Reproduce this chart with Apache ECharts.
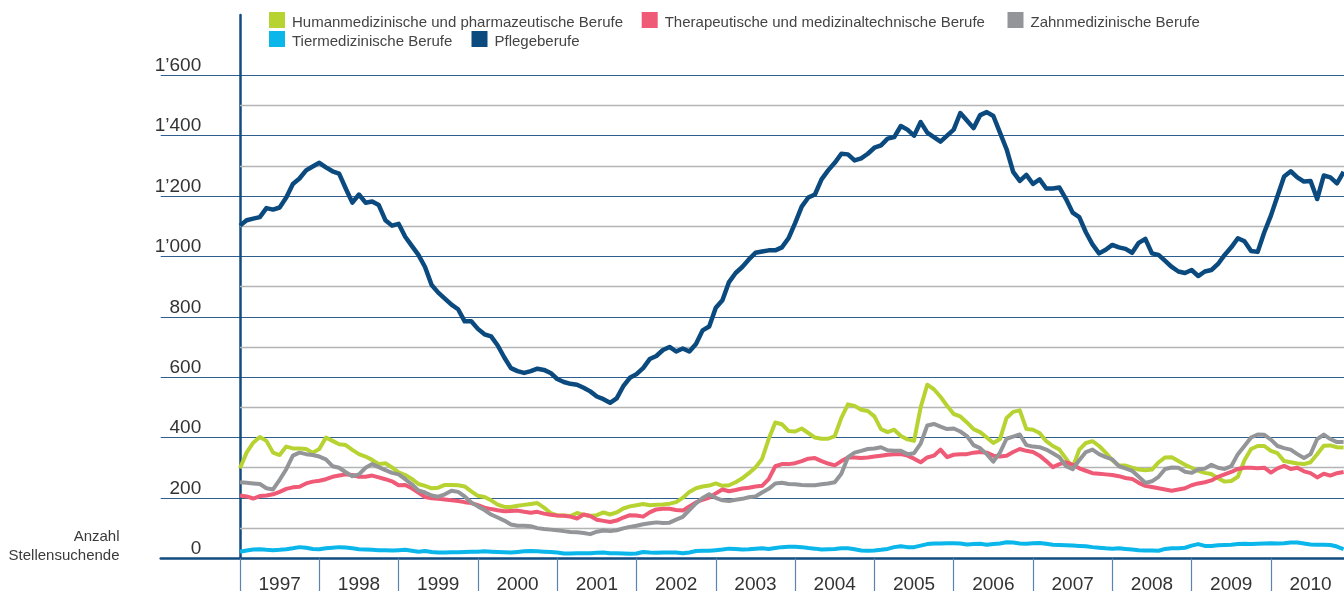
<!DOCTYPE html>
<html>
<head>
<meta charset="utf-8">
<script src="https://cdn.jsdelivr.net/npm/echarts@6/dist/echarts.min.js"></script>
<style>
  html, body { margin: 0; padding: 0; background: #fff; }
  #chart { width: 1344px; height: 591px; }
</style>
</head>
<body>
<div id="chart"></div>
<script>
// monthly values, Jan 1997 .. Dec 2010
const years = ['1997', '1998', '1999', '2000', '2001', '2002', '2003', '2004', '2005', '2006', '2007', '2008', '2009', '2010']
const names = [
  'Humanmedizinische und pharmazeutische Berufe',
  'Therapeutische und medizinaltechnische Berufe',
  'Zahnmedizinische Berufe',
  'Tiermedizinische Berufe',
  'Pflegeberufe'
]
const human = [
  298, 350, 383, 402, 389, 350, 342, 370, 364, 364, 362, 350, 362, 400, 389, 378, 375, 359, 345, 337, 326, 312, 315, 301, 285, 276, 263, 246,
  240, 232, 234, 243, 243, 242, 238, 222, 207, 203, 192, 178, 170, 170, 174, 177, 180, 183, 168, 150, 142, 142, 140, 150, 144, 140, 143, 152,
  145, 152, 165, 172, 176, 180, 176, 177, 178, 181, 186, 200, 220, 232, 238, 241, 248, 240, 242, 252, 265, 282, 301, 329, 395, 450, 444, 422,
  420, 430, 415, 400, 396, 396, 405, 465, 510, 505, 492, 488, 470, 428, 418, 426, 405, 394, 389, 500, 575, 560, 535, 505, 478, 470, 450, 428,
  418, 400, 382, 395, 465, 485, 490, 428, 426, 415, 388, 372, 360, 330, 300, 360, 382, 388, 372, 350, 325, 307, 307, 300, 294, 292, 294,
  318, 334, 335, 322, 310, 300, 290, 283, 279, 265, 254, 256, 270, 325, 362, 372, 372, 356, 348, 322, 318, 314, 312, 318, 345, 373, 374, 368, 367
]
const therapie = [
  208, 205, 198, 206, 208, 212, 220, 230, 235, 237, 248, 254, 257, 262, 270, 274, 278, 276, 270, 270, 274, 268, 262, 255, 242, 243, 232, 218,
  203, 199, 197, 195, 192, 190, 186, 183, 176, 168, 163, 159, 156, 157, 158, 154, 151, 154, 148, 144, 142, 141, 138, 132, 145, 140, 128, 124,
  120, 125, 135, 143, 142, 138, 152, 162, 164, 164, 160, 158, 172, 185, 194, 201, 215, 228, 222, 226, 231, 234, 238, 240, 262, 305, 312, 312,
  315, 322, 330, 332, 322, 314, 308, 322, 334, 334, 332, 334, 337, 340, 343, 345, 345, 340, 330, 318, 334, 340, 360, 335, 343, 345, 345, 350,
  352, 350, 340, 337, 340, 352, 362, 356, 352, 340, 322, 302, 312, 318, 310, 298, 290, 282, 280, 278, 276, 272, 266, 263, 250, 240, 236,
  232, 228, 224, 228, 232, 242, 248, 252, 258, 270, 278, 286, 296, 300, 300, 298, 300, 284, 298, 306, 296, 300, 288, 282, 268, 280, 274, 282, 286
]
const zahn = [
  252, 250, 248, 246, 232, 228, 260, 295, 340, 350, 345, 342, 337, 328, 305, 300, 285, 272, 278, 300, 312, 302, 292, 283, 278, 262, 245, 225,
  218, 208, 204, 212, 224, 220, 205, 185, 172, 160, 145, 135, 125, 112, 108, 108, 106, 100, 97, 95, 93, 90, 87, 86, 84, 80, 88, 92,
  90, 93, 99, 104, 108, 113, 116, 119, 117, 118, 128, 137, 160, 182, 200, 212, 200, 192, 190, 194, 197, 202, 205, 218, 230, 248, 250, 246,
  245, 243, 242, 242, 245, 248, 252, 280, 335, 350, 356, 362, 364, 368, 358, 356, 356, 345, 348, 380, 440, 445, 436, 428, 430, 420, 405, 375,
  365, 345, 320, 350, 396, 403, 410, 375, 370, 368, 360, 348, 335, 305, 295, 325, 352, 360, 345, 335, 328, 305, 298, 290, 270, 250, 255,
  270, 296, 301, 300, 287, 283, 294, 297, 310, 300, 296, 305, 345, 372, 400, 410, 409, 393, 372, 365, 360, 345, 332, 345, 395, 410, 395, 385, 385
]
const tier = [
  22, 26, 29, 30, 28, 27, 28, 30, 33, 37, 35, 31, 30, 33, 35, 37, 36, 33, 30, 29, 28, 27, 27, 26, 27, 28, 25, 22,
  24, 21, 19, 19, 20, 20, 21, 22, 22, 23, 22, 21, 20, 19, 21, 23, 24, 23, 22, 21, 19, 16, 16, 17, 17, 17, 18, 19,
  17, 17, 16, 15, 16, 21, 19, 18, 19, 19, 19, 17, 19, 24, 25, 25, 27, 29, 32, 31, 29, 30, 32, 33, 31, 34, 37, 38,
  38, 37, 34, 32, 29, 30, 31, 33, 33, 30, 26, 25, 26, 28, 31, 37, 40, 37, 37, 42, 47, 49, 49, 50, 50, 49, 46, 47,
  48, 45, 47, 49, 53, 52, 49, 48, 50, 51, 48, 45, 44, 43, 42, 41, 40, 37, 35, 33, 32, 33, 31, 29, 27, 26, 26,
  25, 31, 33, 33, 35, 42, 47, 41, 41, 43, 44, 45, 47, 48, 47, 48, 49, 50, 49, 50, 52, 52, 49, 46, 45, 45, 44, 39, 30
]
const pflege = [
  1102, 1120, 1125, 1130, 1160, 1155, 1162, 1195, 1240, 1258, 1285, 1298, 1310, 1295, 1282, 1274, 1225, 1178, 1205, 1178, 1182, 1170, 1120, 1102, 1108, 1065, 1035, 1005, 965,
  905, 880, 860, 840, 825, 785, 785, 760, 742, 735, 705, 665, 630, 620, 614, 620, 628, 624, 614, 594, 584, 578, 575, 565, 553, 536, 527, 515, 530, 570, 598, 610, 630,
  660, 670, 690, 700, 685, 695, 685, 710, 755, 768, 830, 855, 915, 945, 965, 990, 1012, 1016, 1020, 1020, 1030, 1060,
  1110, 1165, 1195, 1205, 1255, 1285, 1310, 1340, 1338, 1318, 1325, 1340, 1360, 1368, 1390, 1395, 1432, 1420, 1400, 1445, 1410, 1395, 1380, 1400, 1420, 1475, 1450, 1425,
  1468, 1478, 1465, 1410, 1355, 1280, 1250, 1270, 1240, 1255, 1225, 1225, 1228, 1190, 1145, 1130, 1080, 1040, 1010, 1022, 1038, 1030, 1025, 1012, 1045, 1058, 1010,
  1005, 985, 965, 950, 945, 955, 935, 950, 955, 975, 1005, 1030, 1060, 1050, 1018, 1015, 1080, 1135, 1200, 1265, 1282, 1262, 1248, 1250, 1190, 1268, 1262, 1242, 1280
]
const minorTicks = [100, 300, 500, 700, 900, 1100, 1300, 1500]

const colors = ['#b7d332', '#ef5a76', '#939598', '#0ab6ea', '#0b4a7f']
const font = 'Liberation Sans'
const axisBlue = '#124b7f'

const chartDom = document.getElementById('chart')
const myChart = echarts.init(chartDom)

// month index -> value pairs
const toPoints = arr => arr.map((v, i) => [i, v])
const lines = [human, therapie, zahn, tier, pflege]

// one legend per item so each sits where it does in the original;
// the icon path keeps the square top-left so the text sits a bit lower/further right
const legendPos = [[269, 12], [641.7, 12], [1007.5, 12], [269, 31], [471.5, 31]]
const legends = names.map((n, i) => ({
  data: [n],
  left: legendPos[i][0],
  top: legendPos[i][1],
  padding: 0,
  icon: 'path://M0,0H16V16H0Z M17.9,21.9H18V22H17.9Z',
  itemWidth: 18,
  itemHeight: 22,
  selectedMode: false,
  textStyle: { fontFamily: font, fontSize: 15, color: '#444' }
}))

const series = lines.map((arr, i) => ({
  name: names[i],
  type: 'line',
  data: toPoints(arr),
  xAxisIndex: 0,
  showSymbol: false,
  symbol: 'none',
  color: colors[i],
  lineStyle: { width: i === 4 ? 4.5 : 4, color: colors[i], join: 'round' },
  z: 3 + i
}))

// grey in-between grid lines, only right of the y axis
series.unshift({
  name: 'minor',
  type: 'line',
  data: [],
  silent: true,
  markLine: {
    silent: true,
    z: 1,
    symbol: 'none',
    animation: false,
    label: { show: false },
    lineStyle: { color: '#b4b4b4', width: 1.3, type: 'solid' },
    emphasis: { disabled: true },
    data: minorTicks.map(v => [{ coord: [0, v] }, { coord: [168, v] }])
  }
})

const option = {
  animation: false,
  backgroundColor: '#fff',
  legend: legends,
  grid: {
    left: 160.7,
    top: 14.9,
    width: 1189.5,
    height: 543.4,
    containLabel: false,
    outerBoundsMode: 'none'
  },
  xAxis: [
    {
      type: 'value',
      min: -12,
      max: 168,
      interval: 12,
      position: 'bottom',
      axisLine: { show: true, onZero: false, lineStyle: { color: axisBlue, width: 2.5 } },
      axisTick: { show: false },
      axisLabel: { show: false },
      splitLine: { show: false }
    },
    {
      type: 'category',
      data: [''].concat(years),
      boundaryGap: true,
      position: 'bottom',
      axisLine: { show: false, onZero: false },
      axisTick: {
        show: true,
        length: 36,
        interval: (index) => index > 0,
        lineStyle: { color: '#5a84b0', width: 1.2 }
      },
      axisLabel: { interval: 0, fontFamily: font, fontSize: 19, color: '#333', margin: 17 },
      splitLine: { show: false }
    }
  ],
  yAxis: {
    type: 'value',
    min: 0,
    max: 1800,
    interval: 200,
    axisLine: { show: true, onZero: true, onZeroAxisIndex: 0, lineStyle: { color: axisBlue, width: 2.5 } },
    axisTick: { show: false },
    axisLabel: {
      fontFamily: font,
      fontSize: 19,
      color: '#333',
      margin: -40.5,
      align: 'right',
      verticalAlign: 'bottom',
      formatter: v => (v > 1600 ? '' : String(v).replace(/\B(?=(\d{3})+$)/g, '\u2019'))
    },
    splitLine: { show: true, showMinLine: false, showMaxLine: false, lineStyle: { color: '#2f5f8e', width: 1.2 } }
  },
  graphic: [{
    type: 'text',
    x: 119.5,
    y: 527,
    style: {
      text: 'Anzahl\nStellensuchende',
      align: 'right',
      verticalAlign: 'top',
      font: '15px "Liberation Sans"',
      lineHeight: 19,
      fill: '#3a3a3a'
    }
  }],
  series: series
}

option && myChart.setOption(option)
</script>
</body>
</html>
